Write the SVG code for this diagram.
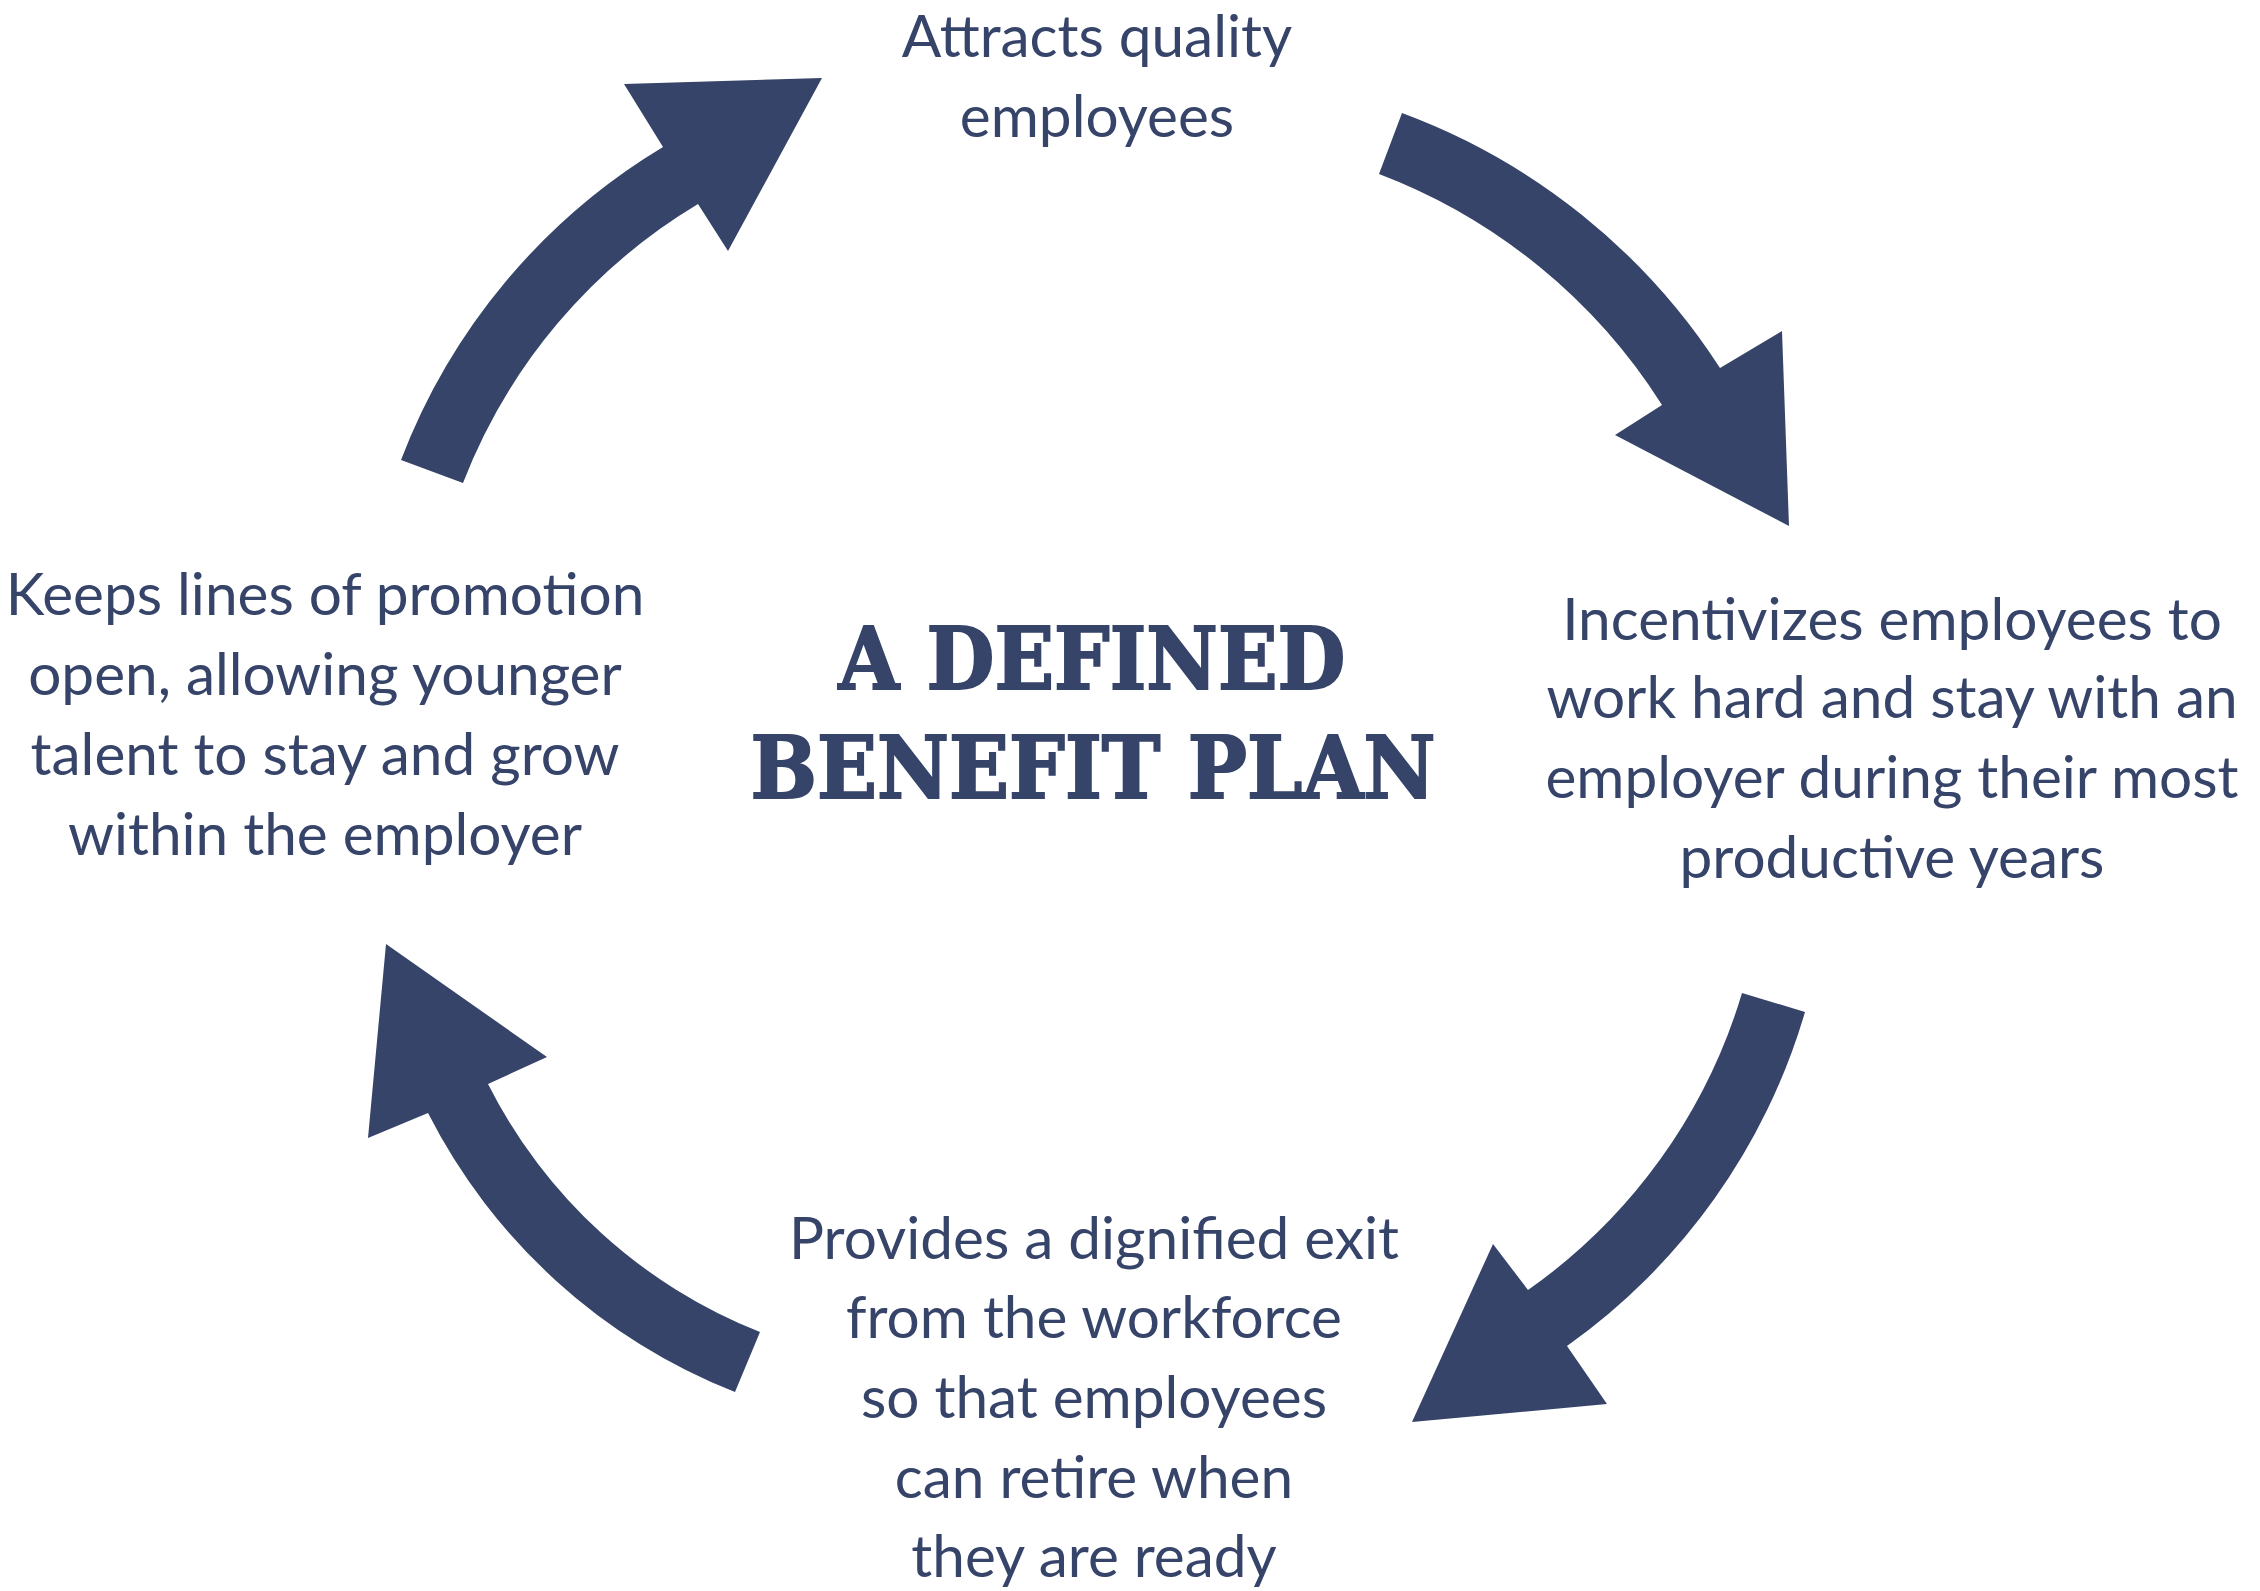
<svg xmlns="http://www.w3.org/2000/svg" width="2260" height="1591" viewBox="0 0 2260 1591">
<style>
.arrow{fill:#364469}
.t{font-family:Lato,"Noto Sans",sans-serif;font-size:58.5px;fill:#364469;text-anchor:middle}
.title{font-family:"DejaVu Serif",serif;font-weight:bold;font-size:86px;fill:#364469;stroke:#364469;stroke-width:2;text-anchor:middle}
</style>
<rect width="2260" height="1591" fill="#ffffff"/>
<g id="connectors">
<path class="arrow" d="M401,460 A625,625 0 0 1 663,147 L624,84 L822,78 L728,251 L698,204 A561,561 0 0 0 463,483 Z"/>
<path class="arrow" d="M1402,113 A645,645 0 0 1 1720,368 L1782,331 L1789,526 L1615,435 L1662,405 A578,578 0 0 0 1379,174 Z"/>
<path class="arrow" d="M1805,1012 A624,624 0 0 1 1567,1346 L1607,1404 L1412,1422 L1493,1244 L1528,1290 A557,557 0 0 0 1742,993 Z"/>
<path class="arrow" d="M735,1392 A585,585 0 0 1 428,1113 L368,1138 L386,944 L547,1057 L488,1084 A518,518 0 0 0 760,1332 Z"/>
</g>
<g id="title">
<text class="title" x="1092" y="689" textLength="507" lengthAdjust="spacingAndGlyphs">A DEFINED</text>
<text class="title" x="1093" y="798" textLength="685" lengthAdjust="spacingAndGlyphs">BENEFIT PLAN</text>
</g>
<g id="node-top">
<text class="t" x="1097" y="57">Attracts quality</text>
<text class="t" x="1097" y="137">employees</text>
</g>
<g id="node-right">
<text class="t" x="1892" y="640">Incentivizes employees to</text>
<text class="t" x="1892" y="718">work hard and stay with an</text>
<text class="t" x="1892" y="798">employer during their most</text>
<text class="t" x="1892" y="878">productive years</text>
</g>
<g id="node-bottom">
<text class="t" x="1094" y="1259">Provides a dignified exit</text>
<text class="t" x="1094" y="1338">from the workforce</text>
<text class="t" x="1094" y="1418">so that employees</text>
<text class="t" x="1094" y="1498">can retire when</text>
<text class="t" x="1094" y="1577">they are ready</text>
</g>
<g id="node-left">
<text class="t" x="325" y="615">Keeps lines of promotion</text>
<text class="t" x="325" y="695">open, allowing younger</text>
<text class="t" x="325" y="775">talent to stay and grow</text>
<text class="t" x="325" y="855">within the employer</text>
</g>
</svg>
